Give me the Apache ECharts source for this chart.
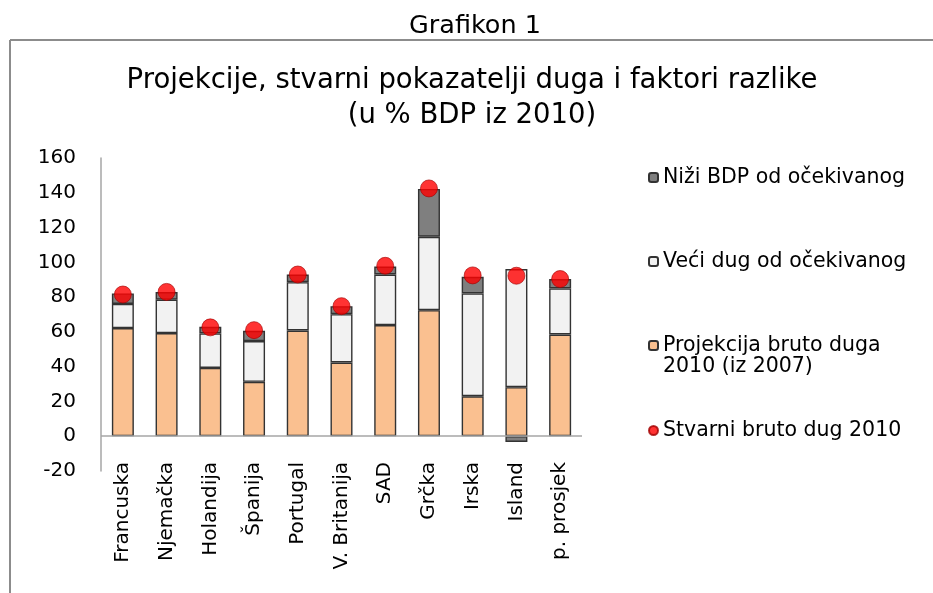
<!DOCTYPE html>
<html>
<head>
<meta charset="utf-8">
<script src="https://cdn.jsdelivr.net/npm/echarts@6/dist/echarts.min.js"></script>
<style>
  html, body { margin: 0; padding: 0; background: #fff; }
  #chart1 { width: 933px; height: 593px; }
</style>
</head>
<body>
<div id="chart1"></div>
<script>
// kategorije (zemlje)
const zemlje = ['Francuska', 'Njemačka', 'Holandija', 'Španija', 'Portugal', 'V. Britanija', 'SAD', 'Grčka', 'Irska', 'Island', 'p. prosjek'];

// Projekcija bruto duga 2010 (iz 2007) - donji dio stupca
const projekcija = [62.2, 59.3, 39.3, 31.3, 60.8, 42.4, 63.9, 72.5, 23.0, 28.2, 58.5];
// Veći dug od očekivanog - srednji dio
const veciDug = [13.9, 19.2, 19.8, 23.4, 27.8, 27.8, 29.1, 42.2, 59.1, 67.9, 26.5];
// Niži BDP od očekivanog - gornji dio (Island negativno)
const niziBdp = [6.0, 4.4, 3.8, 5.9, 4.4, 4.6, 4.6, 27.5, 9.6, -3.3, 5.4];
// Stvarni bruto dug 2010 - crvene tačke
const stvarni = [81.5, 83.0, 62.6, 61.0, 93.0, 74.8, 98.0, 142.5, 92.5, 92.3, 90.4];

// oznake na y osi
const yMin = -20, yMax = 160, yKorak = 20;

const font = 'DejaVu Sans';
const rub = '#333333';

const legenda = (ime, top, extra) => Object.assign({
    data: [ime],
    left: 648,
    top: top,
    orient: 'vertical',
    padding: 0,
    itemWidth: 9,
    itemHeight: 9,
    selectedMode: false,
    textStyle: { fontFamily: font, fontSize: 20.5, color: '#000', lineHeight: 21 }
}, extra || {});

const option = {
    animation: false,
    backgroundColor: '#fff',
    graphic: [
        { type: 'line', shape: { x1: 10, y1: 40, x2: 933, y2: 40 }, style: { stroke: '#8c8c8c', lineWidth: 2 } },
        { type: 'line', shape: { x1: 10, y1: 40, x2: 10, y2: 593 }, style: { stroke: '#8c8c8c', lineWidth: 2 } },
        { type: 'text', style: { text: 'Grafikon 1', x: 475, y: 13, textAlign: 'center', textVerticalAlign: 'top',
            fontFamily: font, fontSize: 25.5, fill: '#000' } },
        { type: 'text', style: { text: 'Projekcije, stvarni pokazatelji duga i faktori razlike\n(u % BDP iz 2010)',
            x: 472, y: 63, textAlign: 'center', textVerticalAlign: 'top',
            fontFamily: font, fontSize: 27.5, lineHeight: 35, fill: '#000' } }
    ],
    legend: [
        legenda('Niži BDP od očekivanog', 167),
        legenda('Veći dug od očekivanog', 251),
        // prazan red ispred teksta da ikona stoji uz prvi red
        legenda('Projekcija bruto duga 2010 (iz 2007)', 314, {
            formatter: () => ' \nProjekcija bruto duga\n2010 (iz 2007)'
        }),
        legenda('Stvarni bruto dug 2010', 420)
    ],
    grid: { left: 101, right: 351, top: 158, bottom: 122 },
    xAxis: {
        type: 'category',
        data: zemlje,
        axisLine: { show: false },
        axisTick: { show: false },
        axisLabel: {
            rotate: 90,
            margin: -9,
            interval: 0,
            fontFamily: font,
            fontSize: 20,
            color: '#000',
            padding: [0, 0, 0, 0]
        }
    },
    yAxis: {
        type: 'value',
        min: yMin,
        max: yMax,
        interval: yKorak,
        axisLine: { show: true, lineStyle: { color: '#a6a6a6', width: 1.5 } },
        axisTick: { show: false },
        splitLine: { show: false },
        axisLabel: { margin: 25, fontFamily: font, fontSize: 20, color: '#000' }
    },
    series: [
        {
            name: 'Projekcija bruto duga 2010 (iz 2007)',
            type: 'bar',
            stack: 'dug',
            barWidth: 22,
            data: projekcija,
            itemStyle: { color: '#fac090', borderColor: rub, borderWidth: 1.4 },
            markLine: {
                silent: true,
                symbol: 'none',
                label: { show: false },
                lineStyle: { color: '#a6a6a6', width: 1.5, type: 'solid' },
                data: [{ yAxis: 0 }]
            }
        },
        {
            name: 'Veći dug od očekivanog',
            type: 'bar',
            stack: 'dug',
            barWidth: 22,
            data: veciDug,
            itemStyle: { color: '#f2f2f2', borderColor: rub, borderWidth: 1.4 }
        },
        {
            name: 'Niži BDP od očekivanog',
            type: 'bar',
            stack: 'dug',
            barWidth: 22,
            data: niziBdp,
            itemStyle: { color: '#7f7f7f', borderColor: rub, borderWidth: 1.4 }
        },
        {
            name: 'Stvarni bruto dug 2010',
            type: 'scatter',
            symbol: 'circle',
            symbolSize: 17,
            z: 5,
            data: stvarni,
            itemStyle: { color: '#ff0000', borderColor: '#a00000', borderWidth: 0.8 }
        }
    ]
};

const chart1 = echarts.init(document.getElementById('chart1'));
chart1.setOption(option);
</script>
</body>
</html>
